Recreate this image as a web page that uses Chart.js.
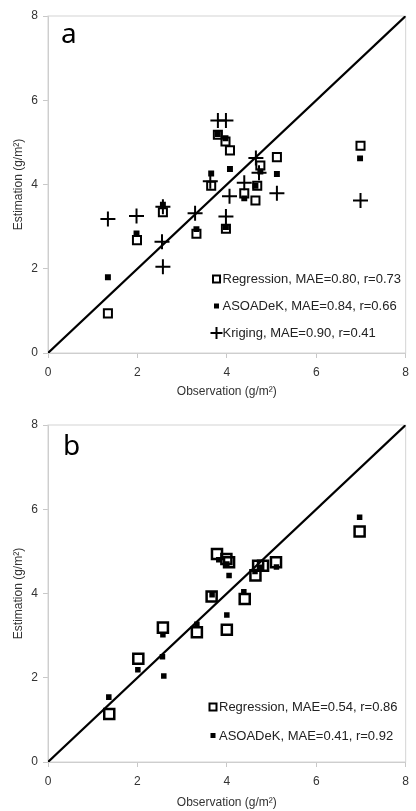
<!DOCTYPE html>
<html>
<head>
<meta charset="utf-8">
<script src="https://cdn.jsdelivr.net/npm/chart.js@4.4.0/dist/chart.umd.min.js"></script>
<style>
  body { margin: 0; background: #fff; }
  #boxA { position: absolute; left: 0; top: 0; width: 416px; height: 400px; }
  #boxB { position: absolute; left: 0; top: 400px; width: 416px; height: 411px; }
</style>
</head>
<body>
<div id="boxA"><canvas id="chartA"></canvas></div>
<div id="boxB"><canvas id="chartB"></canvas></div>
<script>
// panel a
const regAObs = [1.34, 1.99, 2.57, 3.32, 3.65, 3.80, 3.97, 4.07, 3.98, 4.39, 4.64, 4.68, 4.75, 5.12, 6.99];
const regAEst = [0.94, 2.68, 3.34, 2.83, 3.97, 5.18, 5.02, 4.81, 2.95, 3.79, 3.62, 3.97, 4.45, 4.65, 4.92];
const asoAObs = [1.34, 1.98, 2.57, 3.32, 3.98, 3.65, 3.80, 3.97, 4.07, 4.39, 4.64, 4.75, 5.12, 6.98];
const asoAEst = [1.80, 2.84, 3.52, 2.94, 2.99, 4.26, 5.20, 5.10, 4.37, 3.67, 3.97, 4.31, 4.25, 4.62];
const krigAObs = [1.34, 1.98, 2.55, 2.57, 2.57, 3.29, 3.98, 4.06, 5.12, 6.99, 4.39, 3.80, 3.98, 3.63, 4.65, 4.72];
const krigAEst = [3.18, 3.25, 2.64, 2.05, 3.47, 3.32, 3.24, 3.72, 3.79, 3.62, 4.04, 5.52, 5.52, 4.08, 4.63, 4.28];
const legendA = ['Regression, MAE=0.80, r=0.73', 'ASOADeK, MAE=0.84, r=0.66', 'Kriging, MAE=0.90, r=0.41'];

// panel b
const regBObs = [1.37, 2.02, 2.57, 3.33, 3.66, 3.78, 3.99, 4.05, 4.00, 4.40, 4.64, 4.70, 4.81, 5.10, 6.97];
const regBEst = [1.14, 2.45, 3.19, 3.08, 3.93, 4.94, 4.82, 4.74, 3.14, 3.87, 4.43, 4.66, 4.66, 4.74, 5.47];
const asoBObs = [1.36, 2.01, 2.57, 2.56, 2.59, 3.33, 3.67, 4.00, 4.38, 3.82, 4.00, 4.05, 4.63, 4.75, 5.11, 6.97];
const asoBEst = [1.54, 2.19, 3.02, 2.50, 2.04, 3.27, 3.97, 3.49, 4.04, 4.80, 4.70, 4.43, 4.52, 4.62, 4.63, 5.81];
const legendB = ['Regression, MAE=0.54, r=0.86', 'ASOADeK, MAE=0.41, r=0.92'];

const axisTicks = [0, 2, 4, 6, 8];
const oneToOne = [0, 8];

const FONT = 'Liberation Sans, Arial, sans-serif';

function pts(xs, ys) {
  return xs.map((x, i) => ({ x: x, y: ys[i] }));
}

// frame round the plot area + panel letter + legend
const decor = {
  id: 'decor',
  beforeDatasetsDraw(chart, args, opts) {
    const a = chart.chartArea;
    const ctx = chart.ctx;
    ctx.save();
    ctx.strokeStyle = '#d4d4d4';
    ctx.lineWidth = 1;
    ctx.strokeRect(a.left, a.top, a.right - a.left, a.bottom - a.top);
    ctx.fillStyle = '#000';
    ctx.font = '28px "Noto Sans", sans-serif';
    ctx.textBaseline = 'alphabetic';
    ctx.fillText(opts.letter, a.left + opts.letterDx, a.top + opts.letterDy);
    ctx.restore();
  },
  afterDraw(chart, args, opts) {
    const a = chart.chartArea;
    const ctx = chart.ctx;
    ctx.save();
    ctx.font = '13px ' + FONT;
    ctx.textBaseline = 'middle';
    opts.items.forEach((item, i) => {
      const mx = a.left + opts.dx;
      const my = a.top + opts.dy + i * opts.gap;
      ctx.strokeStyle = '#000';
      ctx.fillStyle = '#000';
      if (item.style === 'open') {
        ctx.lineWidth = 2;
        ctx.strokeRect(mx - 3.5, my - 3.5, 7, 7);
      } else if (item.style === 'filled') {
        ctx.fillRect(mx - 2.5, my - 2.5, 5, 5);
      } else {
        ctx.lineWidth = 2;
        ctx.beginPath();
        ctx.moveTo(mx - 6, my); ctx.lineTo(mx + 6, my);
        ctx.moveTo(mx, my - 6); ctx.lineTo(mx, my + 6);
        ctx.stroke();
      }
      ctx.fillStyle = '#222';
      ctx.fillText(item.text, mx + 6, my + 0.5);
    });
    ctx.restore();
  }
};

function makeChart(id, datasets, letter, legend, padTop, xHeight, sq) {
  return new Chart(document.getElementById(id), {
    type: 'scatter',
    data: {
      datasets: [{
        type: 'line',
        data: oneToOne.map(v => ({ x: v, y: v })),
        borderColor: '#000',
        borderWidth: 2.2,
        pointRadius: 0,
        order: 5
      }].concat(datasets)
    },
    options: {
      responsive: true,
      maintainAspectRatio: false,
      animation: false,
      layout: { padding: { left: 0, right: 5, top: padTop, bottom: 0 } },
      plugins: {
        legend: { display: false },
        tooltip: { enabled: false },
        decor: { letter: letter.text, letterDx: letter.dx, letterDy: letter.dy,
                 items: legend.items, dx: legend.dx, dy: legend.dy, gap: legend.gap }
      },
      scales: {
        x: {
          type: 'linear', min: 0, max: 8,
          afterBuildTicks: s => { s.ticks = axisTicks.map(v => ({ value: v })); },
          afterFit: s => { s.height = xHeight; },
          ticks: { color: '#333', font: { family: FONT, size: 12 }, padding: 7 },
          grid: { drawOnChartArea: false, tickLength: 5, color: '#c8c8c8' },
          border: { color: '#c8c8c8' },
          title: { display: true, text: 'Observation (g/m²)', color: '#333',
                   font: { family: FONT, size: 12 }, padding: { top: 0, bottom: 1 } }
        },
        y: {
          type: 'linear', min: 0, max: 8,
          afterBuildTicks: s => { s.ticks = axisTicks.map(v => ({ value: v })); },
          afterFit: s => { s.width = 48; },
          ticks: { color: '#333', font: { family: FONT, size: 12 }, padding: 5 },
          grid: { drawOnChartArea: false, tickLength: 5, color: '#c8c8c8' },
          border: { color: '#c8c8c8' },
          title: { display: true, text: 'Estimation (g/m²)', color: '#333',
                   font: { family: FONT, size: 12 }, padding: { top: 11, bottom: 0 } }
        }
      }
    },
    plugins: [decor]
  });
}

makeChart('chartA', [
  { label: legendA[0], data: pts(regAObs, regAEst), pointStyle: 'rect', pointRadius: 5.7,
    pointBorderWidth: 2, pointBorderColor: '#000', pointBackgroundColor: 'rgba(0,0,0,0)', order: 3 },
  { label: legendA[1], data: pts(asoAObs, asoAEst), pointStyle: 'rect', pointRadius: 4.2,
    pointBorderWidth: 0, pointBackgroundColor: '#000', order: 2 },
  { label: legendA[2], data: pts(krigAObs, krigAEst), pointStyle: 'cross', pointRadius: 7.5,
    pointBorderWidth: 2, pointBorderColor: '#000', order: 1 }
], { text: 'a', dx: 13, dy: 27 },
   { dx: 168.5, dy: 263, gap: 27,
     items: [{ style: 'open', text: legendA[0] }, { style: 'filled', text: legendA[1] }, { style: 'cross', text: legendA[2] }] },
   16, 47);

makeChart('chartB', [
  { label: legendB[0], data: pts(regBObs, regBEst), pointStyle: 'rect', pointRadius: 7.1,
    pointBorderWidth: 2.5, pointBorderColor: '#000', pointBackgroundColor: 'rgba(0,0,0,0)', order: 3 },
  { label: legendB[1], data: pts(asoBObs, asoBEst), pointStyle: 'rect', pointRadius: 3.9,
    pointBorderWidth: 0, pointBackgroundColor: '#000', order: 2 }
], { text: 'b', dx: 15, dy: 30 },
   { dx: 165, dy: 282, gap: 28.5,
     items: [{ style: 'open', text: legendB[0] }, { style: 'filled', text: legendB[1] }] },
   25, 49);
</script>
</body>
</html>
